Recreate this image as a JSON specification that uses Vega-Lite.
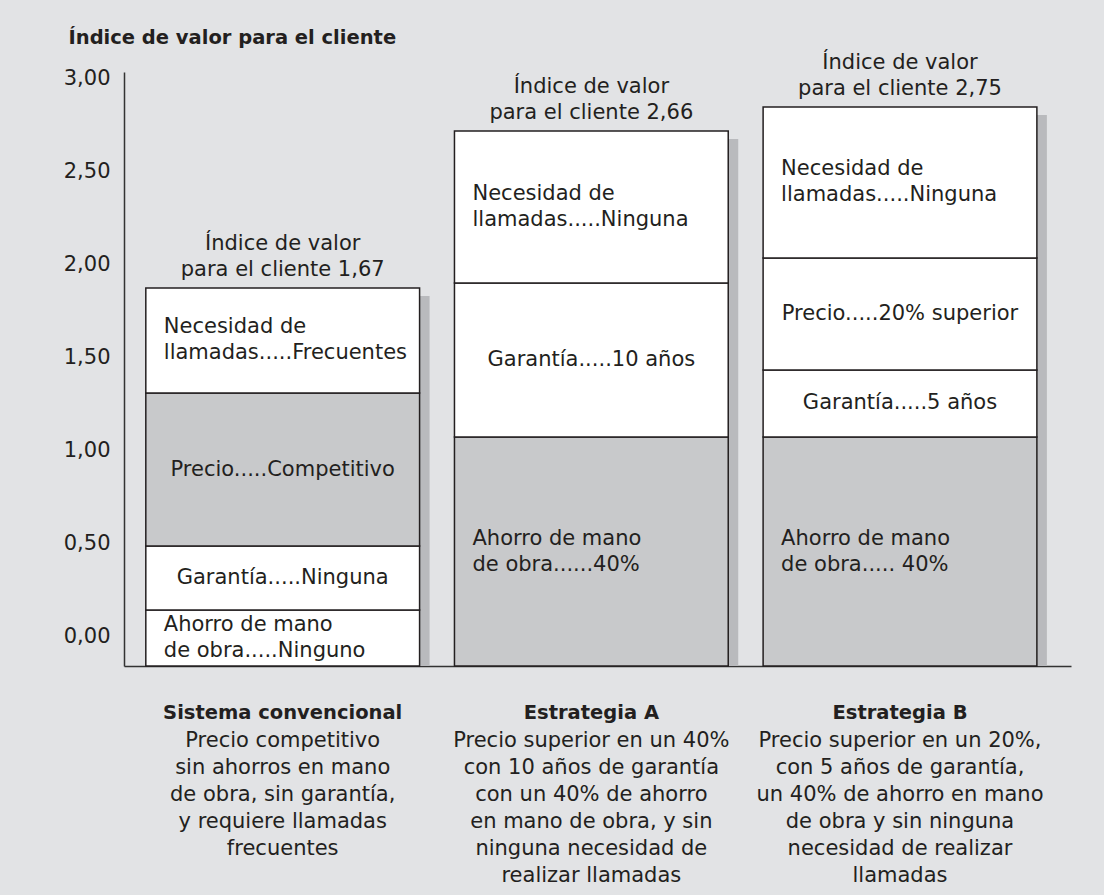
{
  "$schema": "https://vega.github.io/schema/vega-lite/v6.json",
  "width": 947,
  "height": 594,
  "autosize": {"type": "none"},
  "padding": {"left": 124, "top": 72, "right": 33, "bottom": 229},
  "background": "#e2e3e5",
  "config": {
    "view": {"stroke": null},
    "font": "DejaVu Sans",
    "axis": {"labelFont": "DejaVu Sans", "titleFont": "DejaVu Sans"}
  },
  "datasets": {
    "segmentos": [
      {"cat": "Sistema convencional", "componente": "Ahorro de mano de obra", "detalle": "Ninguno", "lo": -0.161, "hi": 0.14, "etiqueta": "Ahorro de mano|de obra.....Ninguno"},
      {"cat": "Sistema convencional", "componente": "Garantía", "detalle": "Ninguna", "lo": 0.14, "hi": 0.484, "etiqueta": "Garantía.....Ninguna"},
      {"cat": "Sistema convencional", "componente": "Precio", "detalle": "Competitivo", "lo": 0.484, "hi": 1.308, "etiqueta": "Precio.....Competitivo"},
      {"cat": "Sistema convencional", "componente": "Necesidad de llamadas", "detalle": "Frecuentes", "lo": 1.308, "hi": 1.873, "etiqueta": "Necesidad de|llamadas.....Frecuentes"},
      {"cat": "Estrategia A", "componente": "Ahorro de mano de obra", "detalle": "40%", "lo": -0.161, "hi": 1.071, "etiqueta": "Ahorro de mano|de obra......40%"},
      {"cat": "Estrategia A", "componente": "Garantía", "detalle": "10 años", "lo": 1.071, "hi": 1.9, "etiqueta": "Garantía.....10 años"},
      {"cat": "Estrategia A", "componente": "Necesidad de llamadas", "detalle": "Ninguna", "lo": 1.9, "hi": 2.718, "etiqueta": "Necesidad de|llamadas.....Ninguna"},
      {"cat": "Estrategia B", "componente": "Ahorro de mano de obra", "detalle": "40%", "lo": -0.161, "hi": 1.071, "etiqueta": "Ahorro de mano|de obra..... 40%"},
      {"cat": "Estrategia B", "componente": "Garantía", "detalle": "5 años", "lo": 1.071, "hi": 1.432, "etiqueta": "Garantía.....5 años"},
      {"cat": "Estrategia B", "componente": "Precio", "detalle": "20% superior", "lo": 1.432, "hi": 2.034, "etiqueta": "Precio.....20% superior"},
      {"cat": "Estrategia B", "componente": "Necesidad de llamadas", "detalle": "Ninguna", "lo": 2.034, "hi": 2.847, "etiqueta": "Necesidad de|llamadas.....Ninguna"}
    ],
    "totales": [
      {"cat": "Sistema convencional", "tope": 1.873, "indice": "Índice de valor|para el cliente 1,67", "descripcion": "Precio competitivo|sin ahorros en mano|de obra, sin garantía,|y requiere llamadas|frecuentes"},
      {"cat": "Estrategia A", "tope": 2.718, "indice": "Índice de valor|para el cliente  2,66", "descripcion": "Precio superior en un 40%|con 10 años de garantía|con un 40% de ahorro|en mano de obra, y sin|ninguna necesidad de|realizar llamadas"},
      {"cat": "Estrategia B", "tope": 2.847, "indice": "Índice de valor|para el cliente 2,75", "descripcion": "Precio superior en un 20%,|con 5 años de garantía,|un 40% de ahorro en mano|de obra y sin ninguna|necesidad de realizar|llamadas"}
    ]
  },
  "encoding": {
    "x": {
      "field": "cat",
      "type": "nominal",
      "sort": ["Sistema convencional", "Estrategia A", "Estrategia B"],
      "scale": {"paddingInner": 0.113, "paddingOuter": 0.0906, "align": 0.39},
      "axis": {
        "title": null,
        "domain": true,
        "domainColor": "#333333",
        "domainWidth": 1.5,
        "ticks": false,
        "labelAngle": 0,
        "labelFontSize": 19.5,
        "labelFontWeight": "bold",
        "labelColor": "#231f20",
        "labelPadding": 37,
        "labelLimit": 0
      }
    }
  },
  "layer": [
    {
      "data": {"name": "totales"},
      "mark": {"type": "bar", "color": "#b9babd", "xOffset": 10, "yOffset": 8},
      "encoding": {
        "y": {
          "field": "tope",
          "type": "quantitative",
          "title": "Índice de valor para el cliente",
          "scale": {"domain": [-0.161, 3.035], "nice": false, "zero": false},
          "axis": {
            "title": "Índice de valor para el cliente",
            "titleAngle": 0,
            "titleAlign": "left",
            "titleBaseline": "alphabetic",
            "titleX": -56,
            "titleY": -29,
            "titleFontSize": 19.5,
            "titleFontWeight": "bold",
            "titleColor": "#231f20",
            "values": [0, 0.5, 1, 1.5, 2, 2.5, 3],
            "labelExpr": "replace(format(datum.value, '.2f'), '.', ',')",
            "labelFontSize": 21,
            "labelColor": "#231f20",
            "labelPadding": 14,
            "ticks": false,
            "grid": false,
            "domainColor": "#333333",
            "domainWidth": 1.5
          }
        },
        "y2": {"datum": -0.161}
      }
    },
    {
      "data": {"name": "segmentos"},
      "mark": {"type": "bar", "stroke": "#231f20", "strokeWidth": 1.5},
      "encoding": {
        "y": {"field": "hi", "type": "quantitative", "title": "Índice de valor para el cliente"},
        "y2": {"field": "lo"},
        "fill": {
          "condition": {"test": "datum.detalle === 'Competitivo' || datum.detalle === '40%'", "value": "#c8c9cb"},
          "value": "#ffffff"
        }
      }
    },
    {
      "data": {"name": "segmentos"},
      "transform": [
        {"filter": "indexof(datum.etiqueta, '|') < 0"},
        {"calculate": "(datum.lo + datum.hi) / 2", "as": "medio"}
      ],
      "mark": {"type": "text", "fontSize": 21, "align": "center", "baseline": "middle", "color": "#231f20"},
      "encoding": {
        "y": {"field": "medio", "type": "quantitative", "title": "Índice de valor para el cliente"},
        "text": {"field": "etiqueta"}
      }
    },
    {
      "data": {"name": "segmentos"},
      "transform": [
        {"filter": "indexof(datum.etiqueta, '|') >= 0"},
        {"calculate": "(datum.lo + datum.hi) / 2", "as": "medio"}
      ],
      "mark": {"type": "text", "fontSize": 21, "align": "left", "baseline": "middle", "dx": 18, "dy": -13, "lineBreak": "|", "lineHeight": 26, "color": "#231f20"},
      "encoding": {
        "x": {"field": "cat", "type": "nominal", "sort": ["Sistema convencional", "Estrategia A", "Estrategia B"], "bandPosition": 0},
        "y": {"field": "medio", "type": "quantitative", "title": "Índice de valor para el cliente"},
        "text": {"field": "etiqueta"}
      }
    },
    {
      "data": {"name": "totales"},
      "mark": {"type": "text", "fontSize": 21, "align": "center", "baseline": "bottom", "dy": -34, "lineBreak": "|", "lineHeight": 26, "color": "#231f20"},
      "encoding": {
        "y": {"field": "tope", "type": "quantitative", "title": "Índice de valor para el cliente"},
        "text": {"field": "indice"}
      }
    },
    {
      "data": {"name": "totales"},
      "mark": {"type": "text", "fontSize": 21, "align": "center", "baseline": "top", "dy": 64, "lineBreak": "|", "lineHeight": 27, "color": "#231f20"},
      "encoding": {
        "y": {"datum": -0.161, "type": "quantitative", "title": "Índice de valor para el cliente"},
        "text": {"field": "descripcion"}
      }
    }
  ]
}
